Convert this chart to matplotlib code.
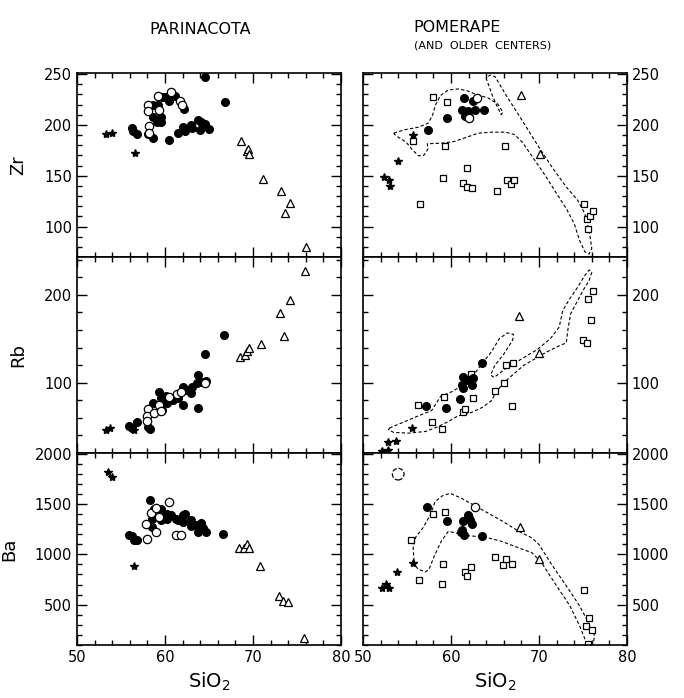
import matplotlib.pyplot as plt
import numpy as np
from matplotlib.ticker import MultipleLocator

# ---- Parinacota (left column), (SiO2, value) pairs ----
par_zr_filled = [(56.2, 196.7), (56.4, 193.8), (56.8, 191.2), (58.1, 191.0), (58.6, 187.0),
                 (58.6, 220.0), (58.6, 208.0), (59.2, 220.0), (59.5, 208.0), (59.5, 202.6),
                 (59.1, 202.6), (59.7, 227.8), (60.0, 227.8), (60.4, 223.2), (61.1, 228.8),
                 (62.2, 215.7), (60.4, 185.3), (61.5, 191.8), (62.0, 197.7), (62.3, 193.8),
                 (63.0, 200.0), (63.1, 196.7), (63.7, 204.9), (64.0, 195.0), (64.1, 202.6),
                 (64.5, 201.0), (65.0, 196.0), (66.8, 222.2), (64.5, 247.0)]
par_zr_open = [(58.1, 219.6), (58.1, 214.0), (59.3, 214.7), (58.2, 198.4), (58.2, 192.0),
               (59.2, 228.0), (60.7, 232.7), (61.7, 223.9), (61.9, 220.0)]
par_zr_star = [(53.3, 191.0), (54.0, 192.0), (56.6, 172.0)]
par_zr_tri = [(68.6, 183.7), (69.3, 174.2), (69.4, 176.5), (69.5, 171.6), (71.1, 147.0),
              (73.2, 134.6), (74.2, 123.2), (73.6, 113.7), (76.0, 79.4)]

par_rb_filled = [(55.9, 50.9), (56.2, 48.3), (56.8, 55.1), (58.1, 49.4), (58.3, 47.2),
                 (58.4, 65.3), (58.6, 76.6), (59.3, 89.8), (59.5, 82.3), (59.7, 69.1),
                 (60.2, 76.6), (60.1, 84.9), (60.9, 80.4), (61.5, 82.3), (62.0, 74.7),
                 (62.0, 95.5), (62.4, 91.7), (63.0, 88.7), (63.1, 95.5), (63.6, 99.2),
                 (63.8, 108.7), (63.8, 70.9), (64.2, 101.1), (64.7, 101.9), (66.7, 154.0),
                 (64.5, 132.1)]
par_rb_open = [(58.1, 69.8), (57.9, 62.3), (57.9, 56.6), (58.8, 65.3), (59.3, 74.7),
               (59.5, 68.3), (60.5, 84.2), (61.4, 87.2), (61.8, 89.8), (64.6, 100.0)]
par_rb_star = [(53.3, 45.7), (53.8, 48.7), (56.5, 45.7)]
par_rb_tri = [(68.5, 129.4), (69.1, 131.3), (69.3, 135.8), (69.5, 138.9), (70.9, 143.8),
              (73.1, 179.2), (73.5, 153.2), (74.2, 194.3), (75.9, 226.8)]

par_ba_filled = [(55.9, 1189), (56.2, 1179), (56.5, 1146), (56.8, 1139), (58.3, 1543),
                 (58.5, 1270), (58.7, 1451), (58.5, 1352), (59.5, 1451), (59.5, 1343),
                 (59.7, 1418), (60.2, 1402), (60.2, 1352), (60.7, 1385), (61.3, 1352),
                 (61.5, 1336), (62.0, 1385), (62.3, 1395), (62.0, 1320), (62.9, 1343),
                 (62.9, 1277), (63.6, 1287), (63.8, 1221), (64.1, 1310), (64.3, 1264),
                 (64.7, 1221), (66.6, 1198), (63.8, 1270)]
par_ba_open = [(60.5, 1523), (58.4, 1411), (59.0, 1461), (59.3, 1369), (57.8, 1303),
               (59.0, 1221), (57.9, 1156), (61.3, 1189), (61.8, 1189)]
par_ba_star = [(53.5, 1818), (54.0, 1762), (56.5, 884)]
par_ba_tri = [(68.4, 1067), (69.0, 1067), (69.3, 1100), (69.5, 1067), (70.8, 887),
              (72.9, 582), (73.4, 539), (74.0, 526), (75.8, 172)]

# ---- Pomerape and older centers (right column) ----
pom_zr_filled = [(57.4, 195.0), (59.6, 206.5), (61.5, 226.5), (61.2, 214.7), (61.6, 209.0),
                 (62.1, 208.0), (61.9, 214.0), (62.5, 223.9), (62.7, 214.7), (63.7, 214.7)]
pom_zr_open = [(63.0, 226.5), (62.1, 206.9)]
pom_zr_star = [(52.4, 148.7), (52.9, 145.4), (53.1, 139.5), (54.0, 164.0), (55.7, 190.2)]
pom_zr_tri = [(67.9, 229.7), (70.1, 170.9)]
pom_zr_sq = [(57.9, 227.0), (59.5, 222.9), (55.7, 184.6), (59.3, 179.0), (66.1, 179.0),
             (61.8, 157.5), (59.1, 148.0), (61.4, 142.8), (61.8, 138.9), (62.4, 137.9),
             (65.2, 134.6), (66.4, 145.4), (66.8, 142.2), (67.2, 145.4), (56.5, 121.9),
             (75.1, 121.9), (75.4, 107.8), (75.8, 110.0), (76.1, 115.4), (75.6, 98.0)]
pom_zr_field = [(53.5, 191.8), (54.7, 195.1), (56.3, 197.7), (57.4, 201.6), (57.9, 209.2),
                (58.2, 219.0), (58.8, 228.8), (59.7, 234.3), (60.8, 235.3), (61.8, 233.7),
                (62.9, 229.7), (64.2, 226.5), (65.3, 220.6), (65.9, 212.4), (65.7, 210.1),
                (65.2, 219.0), (64.7, 228.8), (64.3, 238.6), (64.0, 245.5), (64.4, 249.0),
                (65.0, 247.5), (65.5, 240.2), (66.4, 227.1), (67.5, 212.4), (68.8, 194.4),
                (70.1, 176.5), (71.6, 156.9), (73.1, 138.9), (74.4, 125.8), (75.2, 112.7),
                (75.7, 96.4), (76.0, 78.4), (75.7, 72.9), (75.2, 75.2), (74.6, 86.6),
                (74.0, 102.9), (73.1, 117.6), (72.0, 132.4), (70.7, 150.3), (69.4, 166.7),
                (68.1, 183.0), (67.2, 190.5), (66.2, 192.8), (64.6, 192.8), (63.1, 191.8),
                (61.8, 187.9), (60.4, 183.7), (59.0, 182.0), (57.3, 181.4), (57.4, 176.5),
                (56.9, 169.9), (56.3, 169.6), (55.6, 175.5), (54.9, 183.0), (53.7, 189.5)]

pom_rb_filled = [(57.2, 73.6), (59.4, 71.7), (61.0, 81.1), (61.4, 106.0), (61.3, 97.4),
                 (61.4, 93.6), (61.9, 103.0), (62.4, 97.4), (62.5, 104.9), (63.5, 122.6)]
pom_rb_star = [(52.2, 21.9), (52.8, 23.8), (52.8, 32.0), (53.8, 34.0), (55.6, 48.3)]
pom_rb_tri = [(67.7, 175.8), (70.0, 134.0)]
pom_rb_sq = [(56.3, 74.7), (57.8, 55.8), (59.0, 47.5), (59.2, 83.4), (61.4, 67.2),
             (61.6, 70.2), (62.3, 109.8), (62.5, 83.0), (65.0, 91.0), (66.0, 99.2),
             (66.3, 120.0), (67.0, 121.9), (66.9, 73.6), (75.0, 148.3), (75.4, 145.7),
             (75.6, 195.5), (76.1, 204.2), (75.9, 171.7)]
pom_rb_field = [(53.0, 48.3), (54.5, 54.7), (56.3, 62.3), (57.8, 68.3), (58.8, 84.2),
                (60.1, 89.8), (61.6, 98.5), (62.7, 110.6), (63.6, 122.6), (64.6, 135.1),
                (65.5, 150.2), (66.4, 156.6), (67.1, 155.1), (67.0, 148.3), (66.0, 132.5),
                (65.0, 120.0), (64.5, 108.7), (64.9, 106.0), (66.4, 117.4), (68.3, 128.7),
                (69.8, 137.7), (71.3, 150.2), (72.3, 163.4), (72.7, 182.3), (73.5, 195.5),
                (74.4, 208.7), (75.2, 221.9), (75.7, 228.3), (76.0, 225.7), (75.7, 216.2),
                (75.0, 204.9), (74.3, 191.7), (73.6, 178.5), (73.3, 161.5), (73.1, 145.3),
                (72.2, 141.5), (70.9, 135.1), (69.6, 127.5), (68.3, 120.0), (67.2, 110.6),
                (65.9, 99.2), (65.0, 87.2), (64.6, 79.6), (63.6, 72.1), (62.3, 66.0),
                (60.8, 62.3), (59.7, 55.8), (58.4, 49.4), (57.1, 44.5), (55.2, 42.6),
                (53.5, 43.4), (52.9, 46.4)]

pom_ba_filled = [(57.3, 1467), (59.6, 1333), (61.4, 1326), (61.3, 1244), (61.1, 1218),
                 (61.5, 1195), (61.9, 1392), (62.0, 1359), (62.2, 1336), (62.4, 1303),
                 (63.5, 1179)]
pom_ba_open = [(62.7, 1474)]
pom_ba_dashed = [(54.0, 1795)]
pom_ba_star = [(52.2, 661), (52.6, 703), (53.0, 661), (53.9, 828), (55.7, 916)]
pom_ba_tri = [(67.8, 1267), (70.0, 949)]
pom_ba_sq = [(57.9, 1398), (59.3, 1415), (55.5, 1146), (59.1, 907), (56.4, 743),
             (59.0, 703), (61.6, 825), (61.8, 785), (62.3, 877), (65.0, 975),
             (65.9, 890), (66.3, 949), (66.9, 900), (75.1, 648), (75.7, 369),
             (75.3, 293), (76.0, 244), (75.6, 113)]
pom_ba_field = [(55.8, 933), (55.7, 1064), (56.0, 1172), (56.8, 1261), (57.6, 1382),
                (58.2, 1523), (59.0, 1579), (59.9, 1605), (61.2, 1556), (63.4, 1448),
                (65.7, 1336), (67.7, 1228), (69.2, 1162), (70.0, 1097), (71.3, 916),
                (73.1, 687), (74.6, 490), (75.7, 310), (76.3, 195), (76.2, 123),
                (75.6, 105), (75.2, 162), (74.6, 293), (73.5, 490), (72.0, 687),
                (70.3, 916), (69.2, 1015), (67.5, 1070), (65.7, 1130), (63.8, 1172),
                (61.8, 1185), (60.6, 1211), (59.7, 1228), (58.9, 1130), (58.1, 982),
                (57.5, 851), (57.1, 825), (56.3, 851), (55.9, 890)]

# axis settings per row: label, limits, major, minor, tick labels
rows = [("Zr", (70, 251), 50, 10, [100, 150, 200, 250]),
        ("Rb", (20, 243), 100, 20, [100, 200]),
        ("Ba", (100, 2005), 500, 100, [500, 1000, 1500, 2000])]


def pts(ax, data, **kw):
    a = np.array(data, dtype=float)
    ax.plot(a[:, 0], a[:, 1], linestyle="none", **kw)


def field(ax, data):
    a = np.array(data + data[:1], dtype=float)
    ax.plot(a[:, 0], a[:, 1], color="k", lw=0.8, dashes=(3, 2))


def main():
    fig = plt.figure(figsize=(6.84, 6.98), dpi=100)

    lefts = [77 / 684, 363 / 684]
    w = 264 / 684
    # (bottom, height) of each row in figure fractions
    rowpos = [(1 - 257 / 698, 184 / 698), (1 - 453 / 698, 196 / 698), (1 - 645 / 698, 192 / 698)]

    axes = {}
    for c in range(2):
        for r in range(3):
            ax = fig.add_axes([lefts[c], rowpos[r][0], w, rowpos[r][1]])
            name, lim, major, minor, ticks = rows[r]
            ax.set_xlim(50, 80)
            ax.set_ylim(*lim)
            ax.xaxis.set_major_locator(MultipleLocator(10))
            ax.xaxis.set_minor_locator(MultipleLocator(2))
            ax.set_yticks(ticks)
            ax.yaxis.set_minor_locator(MultipleLocator(minor))
            ax.tick_params(which="both", direction="in", top=True, right=True,
                           left=True, bottom=True, width=1, labelsize=10.5)
            ax.tick_params(which="major", length=7)
            ax.tick_params(which="minor", length=3.5)
            ax.tick_params(labelbottom=(r == 2), labelleft=(c == 0), labelright=(c == 1))
            for s in ax.spines.values():
                s.set_linewidth(1.2)
            if c == 0:
                ax.set_ylabel(name, fontsize=13, labelpad=12)
            if r == 2:
                ax.set_xlabel("SiO$_2$", fontsize=14, labelpad=4)
            axes[(c, r)] = ax

    filled = dict(marker="o", ms=5.5, color="k")
    opn = dict(marker="o", ms=6, mfc="white", mec="k", mew=0.9)
    star = dict(marker="*", ms=6, color="k")
    tri = dict(marker="^", ms=5.5, mfc="white", mec="k", mew=0.9)
    sq = dict(marker="s", ms=4.5, mfc="white", mec="k", mew=0.9)

    # Parinacota
    for r, (f, o, s, t) in enumerate([(par_zr_filled, par_zr_open, par_zr_star, par_zr_tri),
                                      (par_rb_filled, par_rb_open, par_rb_star, par_rb_tri),
                                      (par_ba_filled, par_ba_open, par_ba_star, par_ba_tri)]):
        ax = axes[(0, r)]
        pts(ax, f, **filled)
        pts(ax, o, **opn)
        pts(ax, s, **star)
        pts(ax, t, **tri)

    # Pomerape
    ax = axes[(1, 0)]
    field(ax, pom_zr_field)
    pts(ax, pom_zr_sq, **sq)
    pts(ax, pom_zr_filled, **filled)
    pts(ax, pom_zr_open, **opn)
    pts(ax, pom_zr_star, **star)
    pts(ax, pom_zr_tri, **tri)

    ax = axes[(1, 1)]
    field(ax, pom_rb_field)
    pts(ax, pom_rb_sq, **sq)
    pts(ax, pom_rb_filled, **filled)
    pts(ax, pom_rb_star, **star)
    pts(ax, pom_rb_tri, **tri)

    ax = axes[(1, 2)]
    field(ax, pom_ba_field)
    pts(ax, pom_ba_sq, **sq)
    pts(ax, pom_ba_filled, **filled)
    pts(ax, pom_ba_open, **opn)
    pts(ax, pom_ba_star, **star)
    pts(ax, pom_ba_tri, **tri)
    d = np.array(pom_ba_dashed)
    ax.scatter(d[:, 0], d[:, 1], s=70, facecolors="none", edgecolors="k",
               linewidths=0.9, linestyles="--")

    fig.text(200 / 684, 1 - 30 / 698, "PARINACOTA", fontsize=11.5, ha="center", va="center")
    fig.text(413 / 684, 1 - 28 / 698, "POMERAPE", fontsize=11.5, ha="left", va="center")
    fig.text(414 / 684, 1 - 46 / 698, "(AND  OLDER  CENTERS)", fontsize=8, ha="left", va="center")

    plt.savefig("out.png", dpi=100)


if __name__ == "__main__":
    main()
